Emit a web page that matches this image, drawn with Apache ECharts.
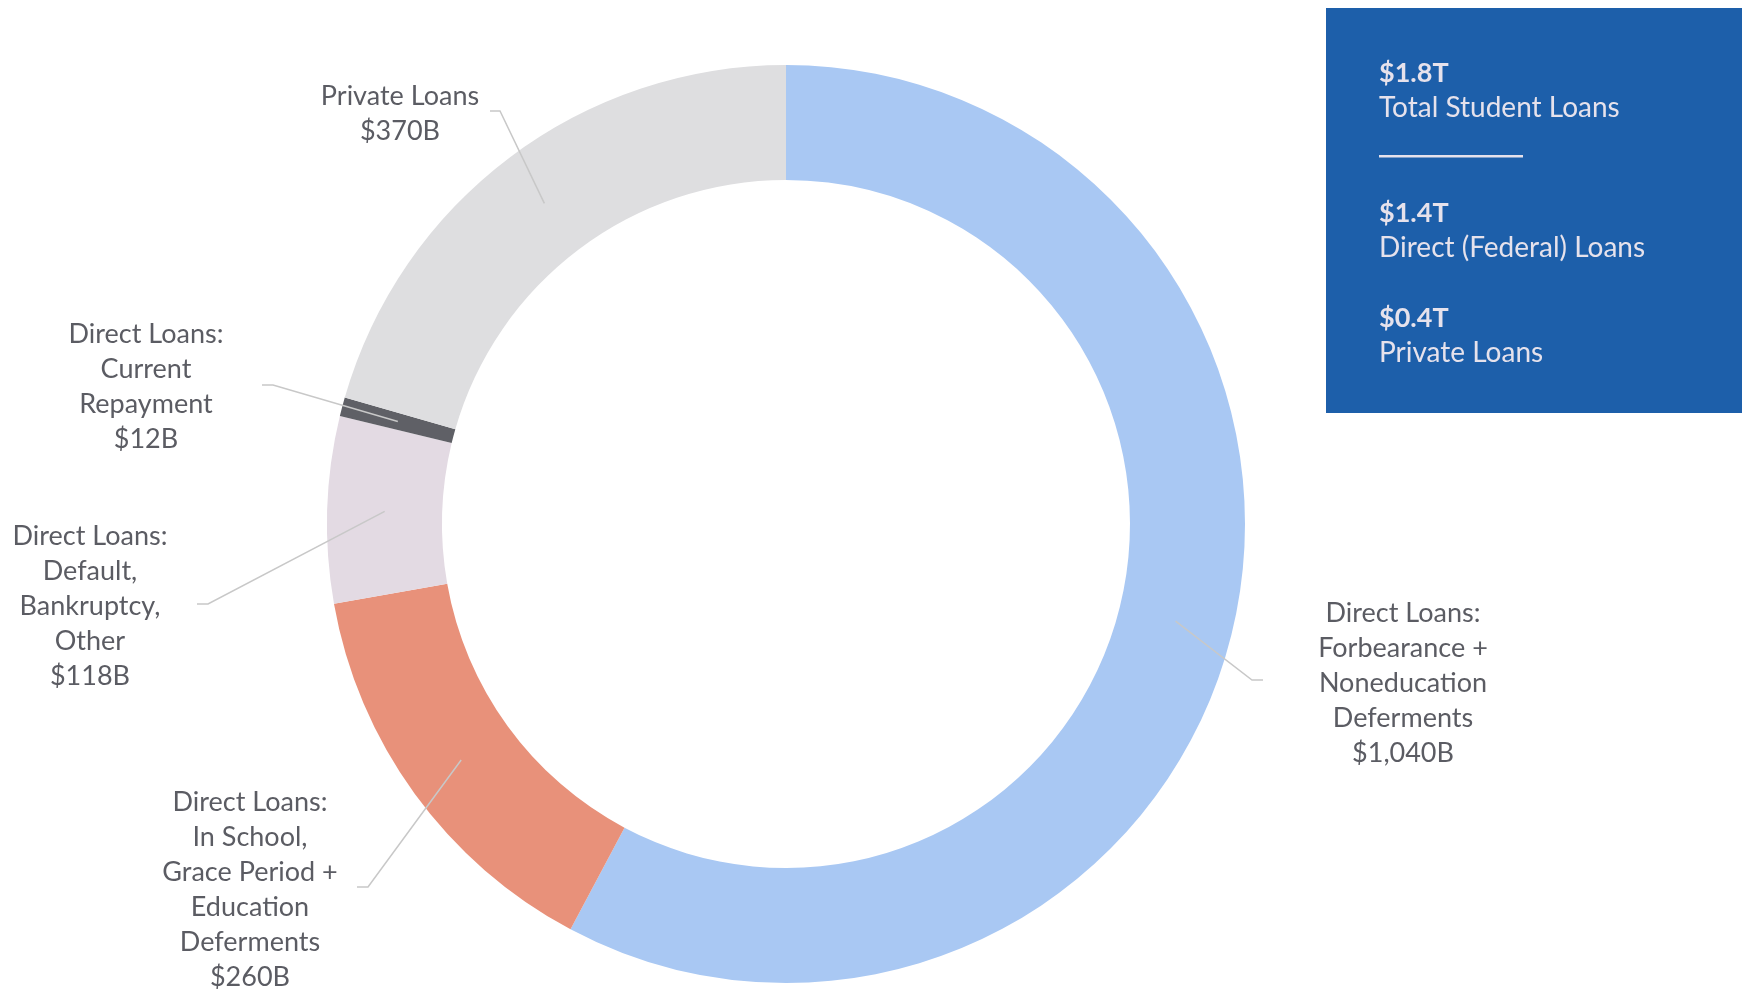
<!DOCTYPE html>
<html>
<head>
<meta charset="utf-8">
<title>Student Loans Outstanding</title>
<script src="https://cdn.jsdelivr.net/npm/echarts@6/dist/echarts.min.js"></script>
<style>
  html, body { margin: 0; padding: 0; background: #ffffff; }
  #chart { width: 1746px; height: 993px; }
</style>
</head>
<body>
<div id="chart"></div>
<script>
// Loan categories (drawn clockwise from 12 o'clock)
const categories = [
  'Direct Loans:\nForbearance +\nNoneducation\nDeferments',
  'Direct Loans:\nIn School,\nGrace Period +\nEducation\nDeferments',
  'Direct Loans:\nDefault,\nBankruptcy,\nOther',
  'Direct Loans:\nCurrent\nRepayment',
  'Private Loans'
];
// Outstanding balance, billions of dollars
const balances = [1040, 260, 118, 12, 370];
const sliceColors = ['#a9c8f3', '#e8917a', '#e3dae3', '#5f6066', '#dedee0'];

// Summary panel
const summaryValues = ['$1.8T', '$1.4T', '$0.4T'];
const summaryNames = ['Total Student Loans', 'Direct (Federal) Loans', 'Private Loans'];

// Ring geometry and label placement
const CX = 786, CY = 524, R_IN = 344, R_OUT = 459;
const labelSpots = [
  { x: 1403, y: 683, bend: [1252, 680], end: [1263, 680] },
  { x: 250, y: 890, bend: [368, 887], end: [357, 887] },
  { x: 90, y: 606, bend: [208, 604], end: [197, 604] },
  { x: 146, y: 387, bend: [273, 385], end: [262, 385] },
  { x: 400, y: 114, bend: [500, 111], end: [490, 111] }
];

const total = balances.reduce((a, b) => a + b, 0);
// anchor of each leader line: middle of the ring at the slice's mid-angle
function anchorPoint(i) {
  let before = 0;
  for (let k = 0; k < i; k++) before += balances[k];
  const frac = (before + balances[i] / 2) / total;
  const ang = Math.PI / 2 - frac * 2 * Math.PI;
  const r = (R_IN + R_OUT) / 2;
  return [CX + r * Math.cos(ang), CY - r * Math.sin(ang)];
}

const FONT = 'Lato, "Open Sans", "DejaVu Sans", sans-serif';
const TEXT_COLOR = '#5b5c63';
const PANEL_TEXT = '#e6e2ec';

const chart = echarts.init(document.getElementById('chart'), null, { renderer: 'canvas' });

const panelX = 1379;
const panelGraphics = [
  { type: 'rect', shape: { x: 1326, y: 8, width: 416, height: 405 }, style: { fill: '#1d5faa' }, silent: true },
  { type: 'rect', shape: { x: 1379, y: 155, width: 144, height: 2.5 }, style: { fill: PANEL_TEXT }, silent: true }
];
const panelRows = [73, 213, 318];
summaryValues.forEach((v, i) => {
  panelGraphics.push({
    type: 'text', x: panelX, y: panelRows[i], silent: true,
    style: { text: v, fill: PANEL_TEXT, font: 'bold 27px ' + FONT, textAlign: 'left', textVerticalAlign: 'middle' }
  });
  panelGraphics.push({
    type: 'text', x: panelX, y: panelRows[i] + 35, silent: true,
    style: { text: summaryNames[i], fill: PANEL_TEXT, font: 'normal 28px ' + FONT, textAlign: 'left', textVerticalAlign: 'middle' }
  });
});

const pieData = categories.map((name, i) => ({
  name: name, value: balances[i], itemStyle: { color: sliceColors[i] }
}));
const ringBase = {
  type: 'pie',
  center: [CX, CY],
  radius: [R_IN, R_OUT],
  startAngle: 90,
  clockwise: true,
  avoidLabelOverlap: false,
  silent: true
};

chart.setOption({
  animation: false,
  backgroundColor: '#ffffff',
  graphic: panelGraphics,
  series: [
    // the coloured ring
    Object.assign({}, ringBase, {
      z: 2,
      itemStyle: { borderWidth: 0 },
      data: pieData,
      label: { show: false },
      labelLine: { show: false }
    }),
    // labels and leader lines, laid over the ring
    Object.assign({}, ringBase, {
      z: 3,
      itemStyle: { color: 'rgba(0,0,0,0)', borderWidth: 0 },
      data: categories.map((name, i) => ({ name: name, value: balances[i] })),
      label: {
        show: true,
        position: 'outside',
        color: TEXT_COLOR,
        fontFamily: FONT,
        fontWeight: 'normal',
        fontSize: 27,
        lineHeight: 35,
        align: 'center',
        formatter: p => p.name + '\n$' + p.value.toLocaleString('en-US') + 'B'
      },
      labelLine: {
        show: true,
        smooth: false,
        lineStyle: { color: '#c8c8c8', width: 1.5 }
      },
      labelLayout: params => {
        const s = labelSpots[params.dataIndex];
        return {
          x: s.x, y: s.y, align: 'center', verticalAlign: 'middle',
          labelLinePoints: [anchorPoint(params.dataIndex), s.bend, s.end]
        };
      }
    })
  ]
});
</script>
</body>
</html>
